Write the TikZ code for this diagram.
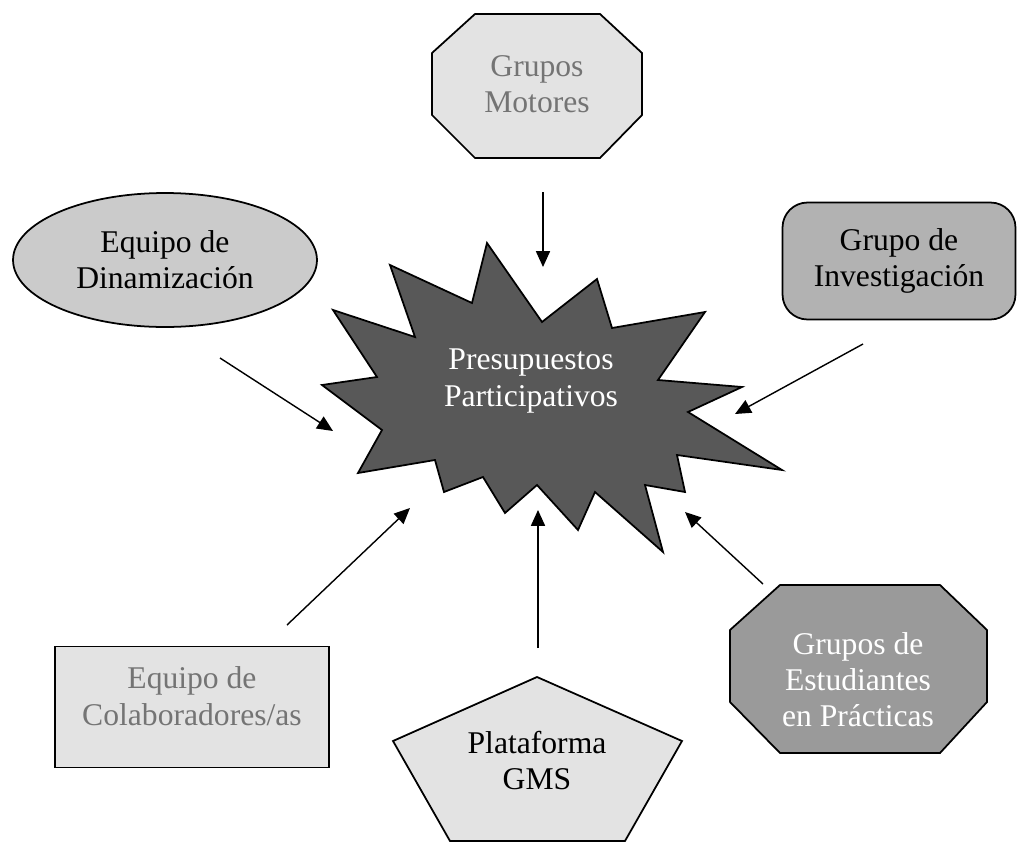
\documentclass[tikz,border=0pt]{standalone}
\usepackage{fontspec}
\setmainfont{Liberation Serif}
\usetikzlibrary{shapes.geometric,arrows.meta}
\definecolor{palegray}{HTML}{E3E3E3}
\definecolor{midgray}{HTML}{CBCBCB}
\definecolor{boxgray}{HTML}{B2B2B2}
\definecolor{deepgray}{HTML}{9A9A9A}
\definecolor{stargray}{HTML}{585858}
\definecolor{txtgray}{HTML}{747474}

\tikzset{
  lbl/.style={align=center,font=\fontsize{18}{20.5}\selectfont},
  shp/.style={draw,line width=1pt},
  arr/.style={-{Triangle[length=9pt,width=8pt]},line width=0.8pt}
}

\begin{document}
\begin{tikzpicture}[x=0.02cm,y=-0.02cm]
 	\useasboundingbox (0,0) rectangle (1018,842);
 	\draw[shp,fill=palegray] (475,14) -- (600,14) -- (642,53) -- (642,115) -- (600,158) -- (475,158) -- (432,115) -- (432,53) -- cycle;
 	\node[lbl,text=txtgray] (motores) at (537,84) {Grupos\\Motores};
 	\node[shp,lbl,ellipse,fill=midgray,minimum width=6.08cm,minimum height=2.68cm,inner sep=0pt] (dinam) at (165,260) {Equipo de\\Dinamizaci\'on};
 	\node[shp,lbl,rectangle,rounded corners=0.5cm,fill=boxgray,minimum width=4.66cm,minimum height=2.34cm] (invest) at (899,261) {Grupo de\\Investigaci\'on};
 	\draw[shp,fill=stargray] (487,243) -- (542,322) -- (597,279) -- (612,328) -- (705,312) -- (658,380) -- (742,387) -- (688,412) -- (782,470) -- (677,455) -- (685,492) -- (645,485) -- (663,552) -- (595,492) -- (578,530) -- (537,485) -- (505,513) -- (483,477) -- (444,492) -- (435,460) -- (358,473) -- (382,430) -- (322,385) -- (377,377) -- (333,310) -- (415,337) -- (390,265) -- (472,303) -- cycle;
 	\node[lbl,text=white] (pp) at (531,381) {Presupuestos\\Participativos};
 	\node[shp,lbl,rectangle,fill=palegray,text=txtgray,text depth=12.5pt,minimum width=5.48cm,minimum height=2.42cm] (colab) at (192,707) {Equipo de\\Colaboradores/as};
 	\draw[shp,fill=palegray] (537,677) -- (682,741) -- (625,841) -- (450,841) -- (393,741) -- cycle;
 	\node[lbl] (gms) at (537,761) {Plataforma\\GMS};
 	\draw[shp,fill=deepgray] (780,585) -- (940,585) -- (987,630) -- (987,702) -- (940,753) -- (780,753) -- (730,702) -- (730,630) -- cycle;
 	\node[lbl,text=white] (estud) at (858,680) {Grupos de\\Estudiantes\\en Pr\'acticas};
 	\coordinate (motoresOut) at (543,192);
 	\coordinate (ppN) at (543,267);
 	\coordinate (dinamOut) at (220,358);
 	\coordinate (ppW) at (333,431);
 	\coordinate (investOut) at (863,344);
 	\coordinate (ppE) at (735,414);
 	\coordinate (colabOut) at (287,625);
 	\coordinate (ppSW) at (410,508);
 	\coordinate (gmsOut) at (538,648);
 	\coordinate (ppS) at (538,510);
 	\coordinate (estudOut) at (763,584);
 	\coordinate (ppSE) at (685,512);
 	\draw[arr] (motoresOut) -- (ppN);
 	\draw[arr] (dinamOut) -- (ppW);
 	\draw[arr] (investOut) -- (ppE);
 	\draw[arr] (colabOut) -- (ppSW);
 	\draw[arr] (gmsOut) -- (ppS);
 	\draw[arr] (estudOut) -- (ppSE);
\end{tikzpicture}
\end{document}
